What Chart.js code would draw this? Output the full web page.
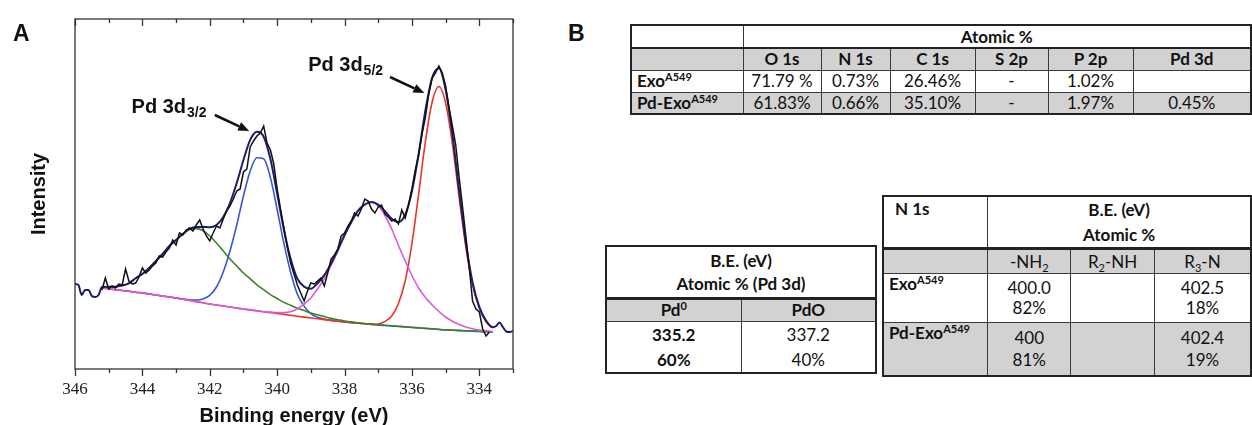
<!DOCTYPE html>
<html>
<head>
<meta charset="utf-8">
<script src="https://cdn.jsdelivr.net/npm/chart.js@4.4.0/dist/chart.umd.min.js"></script>
<style>
  html, body { margin: 0; padding: 0; background: #fff; }
  body { width: 1252px; height: 425px; position: relative; overflow: hidden; font-family: Lato, "Noto Sans", sans-serif; color: #111; }
  #spectrum { position: absolute; left: 0; top: 0; }
  .letter { position: absolute; font-family: "Liberation Sans", Arial, sans-serif; font-weight: bold; font-size: 23px; line-height: 23px; }
  table { position: absolute; border-collapse: collapse; table-layout: fixed; font-size: 17px; }
  td { border: 1px solid #3a3a3a; padding: 0; text-align: center; vertical-align: middle; line-height: 20px; white-space: nowrap; }
  .g { background: #d2d2d2; }
  .b { font-weight: bold; }
  .lft { text-align: left; padding-left: 5px; }
  .top { vertical-align: top; }
  .thick td { border-top: 3px solid #222; }
  sup { font-size: 11px; vertical-align: 6px; line-height: 0; }
  sub { font-size: 11px; vertical-align: -4px; line-height: 0; }
</style>
</head>
<body>
<canvas id="spectrum" width="540" height="425"></canvas>
<div class="letter" style="left:13px; top:22px;">A</div>
<div class="letter" style="left:568px; top:22px;">B</div>

<!-- surface composition -->
<table style="left:630px; top:24px; border:2px solid #222;">
  <colgroup><col style="width:112px"><col style="width:78px"><col style="width:69px"><col style="width:85px"><col style="width:73px"><col style="width:85px"><col style="width:118px"></colgroup>
  <tr style="height:23px"><td></td><td colspan="6" class="b">Atomic %</td></tr>
  <tr style="height:22px" class="g"><td style="border-top:2px solid #222"></td><td class="b" style="border-top:2px solid #222">O 1s</td><td class="b" style="border-top:2px solid #222">N 1s</td><td class="b" style="border-top:2px solid #222">C 1s</td><td class="b" style="border-top:2px solid #222">S 2p</td><td class="b" style="border-top:2px solid #222">P 2p</td><td class="b" style="border-top:2px solid #222">Pd 3d</td></tr>
  <tr style="height:22px"><td class="b lft">Exo<sup>A549</sup></td><td>71.79 %</td><td>0.73%</td><td>26.46%</td><td>-</td><td>1.02%</td><td></td></tr>
  <tr style="height:22px" class="g"><td class="b lft">Pd-Exo<sup>A549</sup></td><td>61.83%</td><td>0.66%</td><td>35.10%</td><td>-</td><td>1.97%</td><td>0.45%</td></tr>
</table>

<!-- Pd 3d states -->
<table style="left:605px; top:245px; border:2px solid #222;">
  <colgroup><col style="width:135px"><col style="width:135px"></colgroup>
  <tr style="height:52px"><td colspan="2" class="b" style="line-height:23px">B.E. (eV)<br>Atomic % (Pd 3d)</td></tr>
  <tr style="height:23px" class="g thick"><td class="b">Pd<sup>0</sup></td><td class="b">PdO</td></tr>
  <tr style="height:50px"><td class="b" style="line-height:25px">335.2<br>60%</td><td style="line-height:25px">337.2<br>40%</td></tr>
</table>

<!-- N 1s states -->
<table style="left:882px; top:195px; border:2px solid #222;">
  <colgroup><col style="width:108px"><col style="width:90px"><col style="width:90px"><col style="width:106px"></colgroup>
  <tr style="height:48px"><td class="b lft top" style="padding-left:11px; padding-top:2px">N 1s</td><td colspan="3" class="b" style="line-height:25px">B.E. (eV)<br>Atomic %</td></tr>
  <tr style="height:25px" class="g thick"><td></td><td>-NH<sub>2</sub></td><td>R<sub>2</sub>-NH</td><td>R<sub>3</sub>-N</td></tr>
  <tr style="height:49px"><td class="b lft top">Exo<sup>A549</sup></td><td>400.0<br>82%</td><td></td><td>402.5<br>18%</td></tr>
  <tr style="height:53px" class="g"><td class="b lft top">Pd-Exo<sup>A549</sup></td><td style="line-height:22px">400<br>81%</td><td></td><td style="line-height:22px">402.4<br>19%</td></tr>
</table>

<script>
// Pd 3d region, measured spectrum sampled every 0.1 eV from 345.2 eV
const rawStart = 345.2, rawStep = 0.1;
const rawCounts = [
  79, 91, 80, 83, 81, 85, 84, 100, 88, 85,
  86, 92, 101, 96, 99, 103, 106, 113, 112, 117,
  121, 129, 124, 136, 134, 139, 141, 138, 144, 149,
  140, 133, 128, 136, 143, 141, 150, 158, 163, 170,
  178, 180, 197, 200, 222, 228, 233, 236, 243, 226,
  219, 205, 180, 160, 141, 122, 106, 95, 84, 76,
  68, 78, 86, 85, 88, 91, 83, 96, 110, 114,
  120, 133, 136, 143, 148, 156, 153, 160, 170, 168,
  160, 156, 162, 164, 155, 152, 148, 150, 145, 159,
  151, 164, 180, 199, 214, 235, 252, 275, 291, 296,
  303, 296, 283, 262, 243, 224, 192, 163, 133, 102,
  68, 60, 57, 40, 33, 37
];

// fit grid: 345.2 eV down to 333.6 eV every 0.2 eV
const fitStart = 345.2, fitStep = 0.2;
const background = [
  81.0, 80.2, 79.3, 78.5, 77.7, 76.8, 76.0, 75.0, 74.0, 73.0,
  72.0, 71.0, 69.8, 68.6, 67.4, 66.2, 65.0, 64.0, 63.0, 62.0,
  61.0, 60.0, 59.1, 58.2, 57.3, 56.4, 55.5, 54.6, 53.7, 52.8,
  51.9, 51.0, 50.2, 49.4, 48.6, 47.8, 47.0, 46.4, 45.8, 45.2,
  44.6, 44.0, 43.5, 43.0, 42.5, 42.0, 41.5, 41.0, 40.5, 40.0,
  39.5, 39.0, 38.7, 38.4, 38.1, 37.8, 37.5, 37.2, 37.0
];
// PdO 3d3/2 (~342.4 eV)
const pdoD32 = [
  1, 2, 3, 5, 8, 14, 19, 26, 34, 42,
  51, 58, 65, 71, 73, 72, 68, 62, 55, 48,
  42, 36, 31, 26, 22, 18, 15, 12, 10, 8,
  6.5, 5, 4, 3, 2, 1.5, 1, 0.7, 0.5, 0.3,
  0.3, 0.3, 0.3, 0.3, 0.3, 0.3, 0.2, 0.2, 0.2, 0.2,
  0.2, 0.2, 0.2, 0.2, 0.2, 0.2, 0.2, 0.2, 0.2
];
// Pd0 3d3/2 (340.5 eV)
const pd0D32 = [
  0, 0, 0, 0, 0, 0, 0, 0, 0, 0,
  0, 0, 0.2, 0.6, 1.6, 3.9, 8.7, 18, 34, 56,
  83, 113, 139, 153, 153, 135, 104, 71, 43, 22,
  11, 4.3, 1.6, 0.5, 0, 0, 0, 0, 0, 0,
  0, 0, 0, 0, 0, 0, 0, 0, 0, 0,
  0, 0, 0, 0, 0, 0, 0, 0, 0
];
// PdO 3d5/2 (337.2 eV)
const pdoD52 = [
  0, 0, 0, 0, 0, 0, 0, 0, 0, 0,
  0, 0, 0, 0, 0, 0, 0, 0, 0, 0,
  0, 0, 0, 0, 0, 0.5, 1, 1.8, 3.5, 7.5,
  13, 20, 30, 41, 55, 70, 86, 100, 112, 119,
  122, 119, 110, 97, 81, 66, 52, 40, 31, 24,
  18, 13, 9, 6, 4, 2.5, 1.5, 1, 0.5
];
// Pd0 3d5/2 (335.2 eV)
const pd0D52 = [
  0, 0, 0, 0, 0, 0, 0, 0, 0, 0,
  0, 0, 0, 0, 0, 0, 0, 0, 0, 0,
  0, 0, 0, 0, 0, 0, 0, 0, 0, 0,
  0, 0, 0, 0, 0, 0, 0, 0, 0, 0,
  0, 1, 4, 10, 23, 46, 84, 134, 187, 227,
  243, 227, 187, 134, 84, 46, 23, 10, 4
];
// measured counts outside the fit window (shown with the envelope)
const edgeLowE = [346.0, 345.9, 345.8, 345.7, 345.6, 345.5, 345.4, 345.3];
const edgeLowI = [85, 84, 74, 79, 79, 73, 72, 74];
const edgeHighE = [333.5, 333.4, 333.3, 333.2, 333.1, 333.0];
const edgeHighI = [43, 46.5, 42, 37.5, 37, 38];

const fitE = background.map((_, i) => +(fitStart - i * fitStep).toFixed(1));
const rawE = rawCounts.map((_, i) => +(rawStart - i * rawStep).toFixed(1));

const onBackground = comp => comp.map((v, i) => ({ x: fitE[i], y: background[i] + v }));
const envelope = [
  ...edgeLowE.map((e, i) => ({ x: e, y: edgeLowI[i] })),
  ...fitE.map((e, i) => ({ x: e, y: background[i] + pdoD32[i] + pd0D32[i] + pdoD52[i] + pd0D52[i] })),
  ...edgeHighE.map((e, i) => ({ x: e, y: edgeHighI[i] }))
];

// peak labels with arrows, in (eV, intensity) units
const peakLabels = [
  { main: 'Pd 3d', sub: '3/2', at: [344.32, 256], from: [341.85, 254], to: [340.83, 238] },
  { main: 'Pd 3d', sub: '5/2', at: [339.08, 297.6], from: [336.65, 292], to: [335.63, 276] }
];

const frameTicks = {
  id: 'frameTicks',
  afterDraw(chart) {
    const { ctx, chartArea: a, scales: { x } } = chart;
    ctx.save();
    ctx.strokeStyle = '#333';
    ctx.lineWidth = 1.3;
    ctx.strokeRect(a.left, a.top, a.right - a.left, a.bottom - a.top);
    for (let v = 333; v <= 346; v++) {
      const px = Math.round(x.getPixelForValue(v)) + 0.5;
      const len = v % 2 === 0 ? 7 : 4;
      ctx.beginPath();
      ctx.moveTo(px, a.top); ctx.lineTo(px, a.top + len);
      ctx.moveTo(px, a.bottom); ctx.lineTo(px, a.bottom + len);
      ctx.stroke();
    }
    ctx.restore();
  }
};

const peakNotes = {
  id: 'peakNotes',
  afterDraw(chart) {
    const { ctx, scales: { x, y } } = chart;
    ctx.save();
    ctx.fillStyle = '#111';
    ctx.strokeStyle = '#111';
    peakLabels.forEach(p => {
      const tx = x.getPixelForValue(p.at[0]), ty = y.getPixelForValue(p.at[1]);
      ctx.font = 'bold 20px "Liberation Sans"';
      ctx.textBaseline = 'alphabetic';
      ctx.fillText(p.main, tx, ty);
      const w = ctx.measureText(p.main).width;
      ctx.font = 'bold 14px "Liberation Sans"';
      ctx.fillText(p.sub, tx + w + 1, ty + 4);

      const x0 = x.getPixelForValue(p.from[0]), y0 = y.getPixelForValue(p.from[1]);
      const x1 = x.getPixelForValue(p.to[0]), y1 = y.getPixelForValue(p.to[1]);
      const ang = Math.atan2(y1 - y0, x1 - x0);
      const head = 11, half = 4.5;
      const bx = x1 - head * Math.cos(ang), by = y1 - head * Math.sin(ang);
      ctx.lineWidth = 2.5;
      ctx.beginPath(); ctx.moveTo(x0, y0); ctx.lineTo(bx, by); ctx.stroke();
      ctx.beginPath();
      ctx.moveTo(x1, y1);
      ctx.lineTo(bx + half * Math.sin(ang), by - half * Math.cos(ang));
      ctx.lineTo(bx - half * Math.sin(ang), by + half * Math.cos(ang));
      ctx.closePath(); ctx.fill();
    });
    ctx.restore();
  }
};

const smooth = { pointRadius: 0, borderWidth: 1.6, cubicInterpolationMode: 'monotone', fill: false };

new Chart(document.getElementById('spectrum').getContext('2d'), {
  type: 'line',
  data: {
    datasets: [
      { label: 'Measured', data: rawCounts.map((v, i) => ({ x: rawE[i], y: v })), borderColor: '#111', borderWidth: 1.5, pointRadius: 0, tension: 0 },
      { label: 'Envelope', data: envelope, ...smooth, borderColor: '#1d1d6e', borderWidth: 2 },
      { label: 'PdO 3d5/2', data: onBackground(pdoD52), ...smooth, borderColor: '#dc58dc' },
      { label: 'PdO 3d3/2', data: onBackground(pdoD32), ...smooth, borderColor: '#3f8226' },
      { label: 'Pd0 3d5/2', data: onBackground(pd0D52), ...smooth, borderColor: '#e5352d' },
      { label: 'Pd0 3d3/2', data: onBackground(pd0D32), ...smooth, borderColor: '#3556d6' }
    ]
  },
  options: {
    responsive: false,
    animation: false,
    layout: { padding: { left: 0, right: 27, top: 19, bottom: 0 } },
    plugins: { legend: { display: false }, tooltip: { enabled: false } },
    scales: {
      x: {
        type: 'linear', reverse: true, min: 333, max: 346,
        grid: { display: false, drawTicks: false },
        border: { display: false },
        ticks: {
          stepSize: 2, includeBounds: false, padding: 10, autoSkip: false, maxRotation: 0,
          color: '#222', font: { family: 'Liberation Serif', size: 17 },
          callback: v => String(v)
        },
        title: {
          display: true, text: 'Binding energy (eV)', color: '#111',
          font: { family: 'Liberation Sans', size: 20, weight: 'bold' },
          padding: { top: 0, bottom: -3 }
        },
        afterFit: s => { s.height = 56; }
      },
      y: {
        min: 0, max: 350,
        grid: { display: false, drawTicks: false },
        border: { display: false },
        ticks: { display: false },
        title: {
          display: true, text: 'Intensity', color: '#111',
          font: { family: 'Liberation Sans', size: 20, weight: 'bold' },
          padding: { top: 27, bottom: 0 }
        },
        afterFit: s => { s.width = 75; }
      }
    }
  },
  plugins: [frameTicks, peakNotes]
});
</script>
</body>
</html>
